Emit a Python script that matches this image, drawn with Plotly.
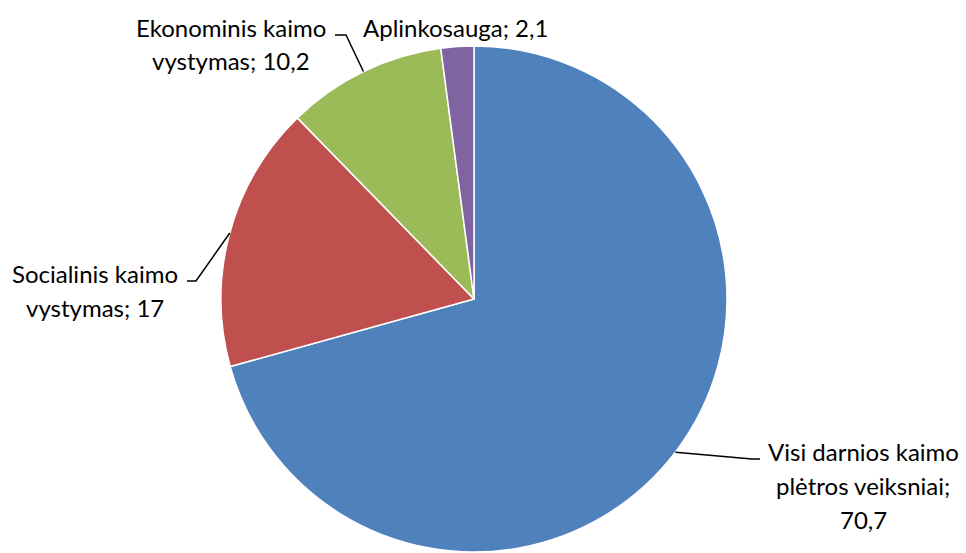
import math
import plotly.graph_objects as go

categories = ["Visi darnios kaimo plėtros veiksniai", "Socialinis kaimo vystymas",
              "Ekonominis kaimo vystymas", "Aplinkosauga"]
values = [70.7, 17, 10.2, 2.1]
value_labels = ["70,7", "17", "10,2", "2,1"]
colors = ["#4F81BD", "#C0504D", "#9BBB59", "#8064A2"]

W, H = 966, 553
CX, CY, R = 474, 299, 253  # pie centre / radius in px

fig = go.Figure(go.Pie(
    labels=categories, values=values, sort=False, direction="clockwise",
    rotation=0, textinfo="none", hoverinfo="label+value",
    marker=dict(colors=colors, line=dict(color="white", width=1.5)),
    domain=dict(x=[(CX - R) / W, (CX + R) / W], y=[1 - (CY + R) / H, 1 - (CY - R) / H]),
    showlegend=False,
))

# label lines per slice
label_lines = [
    ["Visi darnios kaimo", "plėtros veiksniai;", value_labels[0]],
    ["Socialinis kaimo", "vystymas; " + value_labels[1]],
    ["Ekonominis kaimo", "vystymas; " + value_labels[2]],
    ["Aplinkosauga; " + value_labels[3]],
]
label_pos = [(863, 451), (95, 273), (231, 27), (455, 27)]  # centre x, first line y (px)
LINE_PITCH = 34
# leader elbow & end (px)
elbows = [((752, 459), (760, 459)), ((196, 281), (187, 281)), ((346, 35), (335, 35)), None]

def px2paper(x, y):
    return x / W, 1 - y / H

total = sum(values)
cum = 0
shapes = []
for i, v in enumerate(values):
    mid = (cum + v / 2) / total * 2 * math.pi
    cum += v
    sx = CX + R * math.sin(mid)
    sy = CY - R * math.cos(mid)
    if elbows[i] is not None:
        (ex, ey), (tx, ty) = elbows[i]
        pts = [px2paper(sx, sy), px2paper(ex, ey), px2paper(tx, ty)]
        path = "M {} {} L {} {} L {} {}".format(*[c for p in pts for c in p])
        shapes.append(dict(type="path", xref="paper", yref="paper", path=path,
                           line=dict(color="black", width=1.5)))

annotations = []
for (x, y), lines in zip(label_pos, label_lines):
    for k, t in enumerate(lines):
        px, py = px2paper(x, y + k * LINE_PITCH)
        annotations.append(dict(x=px, y=py, xref="paper", yref="paper", text=t,
                                showarrow=False, align="center",
                                xanchor="center", yanchor="middle",
                                font=dict(family="Lato", size=24, color="black")))

fig.update_layout(width=W, height=H, margin=dict(l=0, r=0, t=0, b=0),
                  paper_bgcolor="white", plot_bgcolor="white",
                  shapes=shapes, annotations=annotations)
fig.write_html("out.html", config={"displayModeBar": False},
               post_script="document.body.style.margin='0';document.body.style.padding='0';")
